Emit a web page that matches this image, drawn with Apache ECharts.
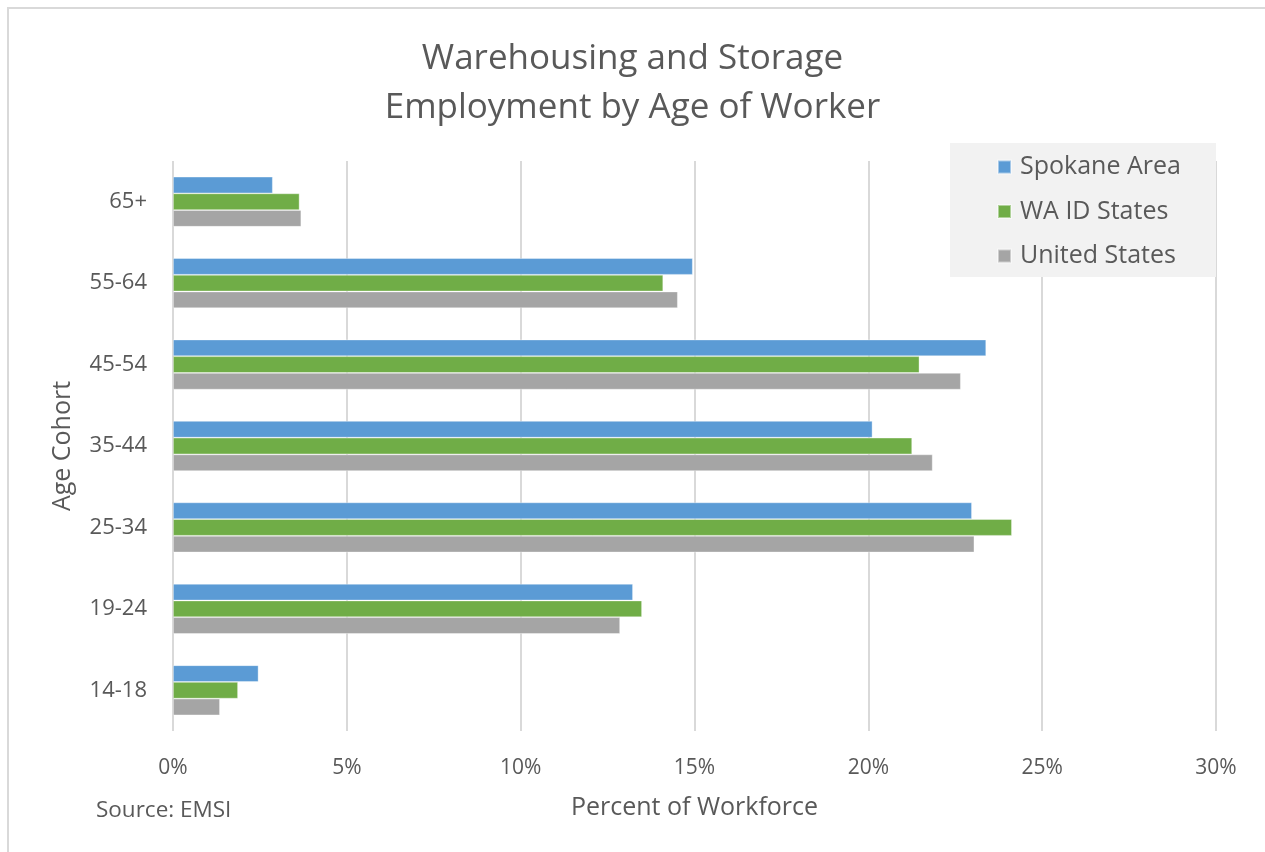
<!DOCTYPE html>
<html>
<head>
<meta charset="utf-8">
<script src="https://cdn.jsdelivr.net/npm/echarts@6/dist/echarts.min.js"></script>
<style>
  html, body { margin: 0; padding: 0; background: #ffffff; }
  #chart { width: 1265px; height: 852px; }
</style>
</head>
<body>
<div id="chart"></div>
<script>
// Age cohorts, listed bottom to top along the category axis
const ageCohorts = ['14-18', '19-24', '25-34', '35-44', '45-54', '55-64', '65+'];

// Share of warehousing & storage workforce (%) per cohort
const spokaneArea  = [2.46, 13.23, 22.98, 20.12, 23.39, 14.95, 2.87];
const waIdStates   = [1.87, 13.49, 24.13, 21.26, 21.47, 14.10, 3.64];
const unitedStates = [1.35, 12.86, 23.05, 21.85, 22.66, 14.52, 3.69];

const seriesNames = ['Spokane Area', 'WA ID States', 'United States'];
const seriesColors = ['#5B9BD5', '#70AD47', '#A5A5A5'];

const xTicks = { min: 0, max: 30, interval: 5 };

const FONT = "'Segoe UI', 'Open Sans', 'Noto Sans', sans-serif";
const TEXT = '#595959';

const chart = echarts.init(document.getElementById('chart'), null, { renderer: 'canvas' });

function barSeries(name, data, color) {
  return {
    name: name,
    type: 'bar',
    data: data,
    barWidth: 16.7,
    barGap: '0%',
    itemStyle: { color: color, borderColor: 'rgba(255,255,255,0.45)', borderWidth: 0.8 },
    emphasis: { disabled: true }
  };
}

chart.setOption({
  animation: false,
  backgroundColor: '#ffffff',
  graphic: [
    {
      // outer chart frame
      type: 'rect',
      shape: { x: 8, y: 8, width: 1300, height: 900 },
      style: { fill: 'none', stroke: '#d9d9d9', lineWidth: 2 },
      z: 0
    },
    {
      // legend panel
      type: 'rect',
      shape: { x: 950, y: 143, width: 266, height: 134 },
      style: { fill: '#f2f2f2' },
      z: 1
    },
    {
      type: 'text',
      left: 96, top: 799,
      style: { text: 'Source: EMSI', font: '22.5px ' + FONT, fill: TEXT }
    }
  ],
  title: {
    text: 'Warehousing and Storage\nEmployment by Age of Worker',
    left: 'center',
    top: 30,
    textStyle: { fontFamily: FONT, fontSize: 35, fontWeight: 'normal', color: TEXT, lineHeight: 49 }
  },
  legend: {
    data: seriesNames,
    orient: 'vertical',
    left: 997,
    top: 152,
    padding: 0,
    itemGap: 14.5,
    itemWidth: 13,
    itemHeight: 13,
    icon: 'rect',
    selectedMode: false,
    z: 5,
    textStyle: { fontFamily: FONT, fontSize: 25, lineHeight: 30, color: TEXT, padding: [0, 0, 0, 4] }
  },
  grid: { left: 173, right: 49, top: 161, bottom: 121, containLabel: false },
  xAxis: {
    type: 'value',
    min: xTicks.min, max: xTicks.max, interval: xTicks.interval,
    name: 'Percent of Workforce',
    nameLocation: 'middle',
    nameGap: 64,
    nameTextStyle: { fontFamily: FONT, fontSize: 25, color: TEXT },
    axisLine: { show: false },
    axisTick: { show: false },
    axisLabel: { formatter: '{value}%', margin: 27, fontFamily: FONT, fontSize: 21, color: TEXT },
    splitLine: { show: true, lineStyle: { color: '#d9d9d9', width: 2 } }
  },
  yAxis: {
    type: 'category',
    data: ageCohorts,
    name: 'Age Cohort',
    nameLocation: 'middle',
    nameGap: 98,
    nameRotate: 90,
    nameTextStyle: { fontFamily: FONT, fontSize: 25, color: TEXT },
    axisLine: { show: false },
    axisTick: { show: false },
    axisLabel: { margin: 26, fontFamily: FONT, fontSize: 22, color: TEXT },
    splitLine: { show: false }
  },
  series: [
    barSeries(seriesNames[0], spokaneArea, seriesColors[0]),
    barSeries(seriesNames[1], waIdStates, seriesColors[1]),
    barSeries(seriesNames[2], unitedStates, seriesColors[2])
  ]
});
</script>
</body>
</html>
